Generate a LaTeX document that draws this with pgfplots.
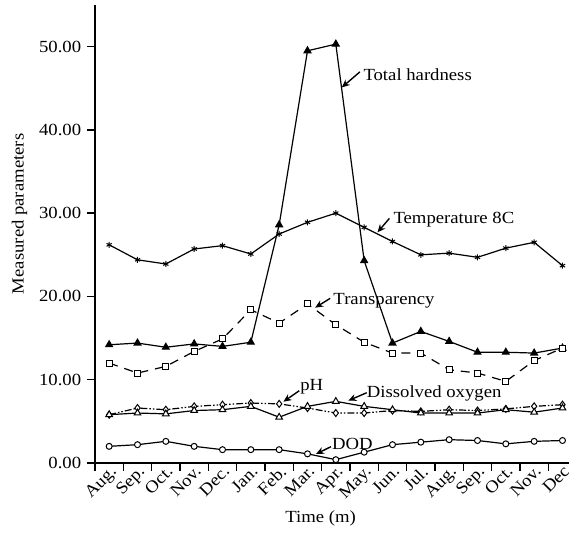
\documentclass[border=0pt]{standalone}
\usepackage{fontspec}
\setmainfont{Liberation Serif}[FakeStretch=1.1]
\usepackage{pgfplots}
\pgfplotsset{compat=1.18}
\usetikzlibrary{arrows.meta}

% one table, months 0..16 (Aug. .. Dec of the following year)
\usepackage{pgfplotstable}
\pgfplotstableread{
m temp hard transp ph dox dod
0  26.2 14.2 12.0 5.8 5.8 2.0
1  24.4 14.4 10.8 6.6 6.0 2.2
2  23.9 13.9 11.6 6.4 5.9 2.6
3  25.7 14.3 13.4 6.8 6.3 2.0
4  26.1 14.0 14.9 7.0 6.4 1.6
5  25.1 14.5 18.4 7.2 6.8 1.6
6  27.5 28.6 16.8 7.1 5.5 1.6
7  28.9 49.5 19.1 6.6 6.8 1.1
8  30.0 50.3 16.6 6.0 7.4 0.4
9  28.3 24.3 14.5 6.0 6.8 1.3
10 26.6 14.4 13.2 6.3 6.4 2.2
11 25.0 15.8 13.2 6.2 6.0 2.5
12 25.2 14.6 11.2 6.4 6.0 2.8
13 24.7 13.3 10.8 6.3 6.0 2.7
14 25.8 13.3  9.8 6.5 6.4 2.3
15 26.5 13.2 12.3 6.8 6.1 2.6
16 23.7 13.8 13.8 7.0 6.6 2.7
}\data

\begin{document}
\fontsize{17pt}{20pt}\selectfont
\begin{tikzpicture}[
  lbl/.style={anchor=base west, inner sep=0pt},
  arr/.style={line width=1.4pt, -{Stealth[length=8pt,width=7pt]}}
]
\begin{axis}[
  scale only axis,
  width=474pt, height=458pt,
  xmin=-0.5, xmax=16.23,
  ymin=0, ymax=55,
  axis x line*=bottom,
  axis y line*=left,
  axis line style={-, line width=1.5pt},
  tick align=outside,
  major tick length=8pt,
  tick style={black, line width=1.5pt},
  xtick={-0.5,0.5,...,15.5},
  xticklabels={},
  extra x ticks={0,1,...,16},
  extra x tick labels={Aug.,Sep.,Oct.,Nov.,Dec.,Jan.,Feb.,Mar.,Apr.,May.,Jun.,Jul.,Aug.,Sep.,Oct.,Nov.,Dec},
  extra x tick style={major tick length=0pt, tick label style={rotate=45, anchor=north east, inner sep=1pt}},
  ytick={0,10,...,50},
  yticklabel={\pgfmathprintnumber[fixed,fixed zerofill,precision=2,assume math mode=true]{\tick}},
  xlabel={Time (m)},
  ylabel={Measured parameters},
  xlabel style={at={(axis description cs:0.476,-0.122)}, anchor=center},
  ylabel style={at={(axis description cs:-0.159,0.544)}, anchor=center},
  clip=false,
  every axis plot/.append style={black, line width=1.2pt},
]
\addplot[mark=asterisk, mark size=3pt, mark options={solid, line width=1pt}] table[x=m, y=temp] {\data};
\addplot[mark=triangle*, mark size=3.8pt, mark options={solid, fill=black}] table[x=m, y=hard] {\data};
\addplot[dash pattern=on 9pt off 7pt, mark=square*, mark size=3pt, mark options={solid, fill=white, line width=1pt}] table[x=m, y=transp] {\data};
\addplot[dash pattern=on 7pt off 2pt on 1.5pt off 2pt on 1.5pt off 2pt, mark=diamond*, mark size=3.5pt, mark options={solid, fill=white, line width=1pt}] table[x=m, y=ph] {\data};
\addplot[mark=triangle*, mark size=3.8pt, mark options={solid, fill=white, line width=1pt}] table[x=m, y=dox] {\data};
\addplot[mark=*, mark size=3pt, mark options={solid, fill=white, line width=1pt}] table[x=m, y=dod] {\data};

\draw[arr] (axis cs:8.85,46.97) -- (axis cs:8.21,45.1);
\node[lbl] at (axis cs:8.97,45.9) {Total hardness};
\draw[arr] (axis cs:9.89,29.37) -- (axis cs:9.47,27.7);
\node[lbl] at (axis cs:10.03,28.8) {Temperature 8C};
\draw[arr] (axis cs:7.80,19.77) -- (axis cs:7.27,18.65);
\node[lbl] at (axis cs:7.91,19.0) {Transparency};
\draw[arr] (axis cs:6.71,8.68) -- (axis cs:6.15,7.36);
\node[lbl] at (axis cs:6.74,8.7) {pH};
\draw[arr] (axis cs:9.09,8.44) -- (axis cs:8.44,7.48);
\node[lbl] at (axis cs:9.09,7.9) {Dissolved oxygen};
\draw[arr] (axis cs:7.83,1.96) -- (axis cs:7.30,1.08);
\node[lbl] at (axis cs:7.86,1.65) {DOD};
\end{axis}
\pgfresetboundingbox
\path (current axis.south west) ++(-95pt,-70pt) coordinate (bl);
\path (current axis.north east) ++(0pt,5pt) coordinate (tr);
\path[use as bounding box] (bl) rectangle (tr);
\end{tikzpicture}
\end{document}
